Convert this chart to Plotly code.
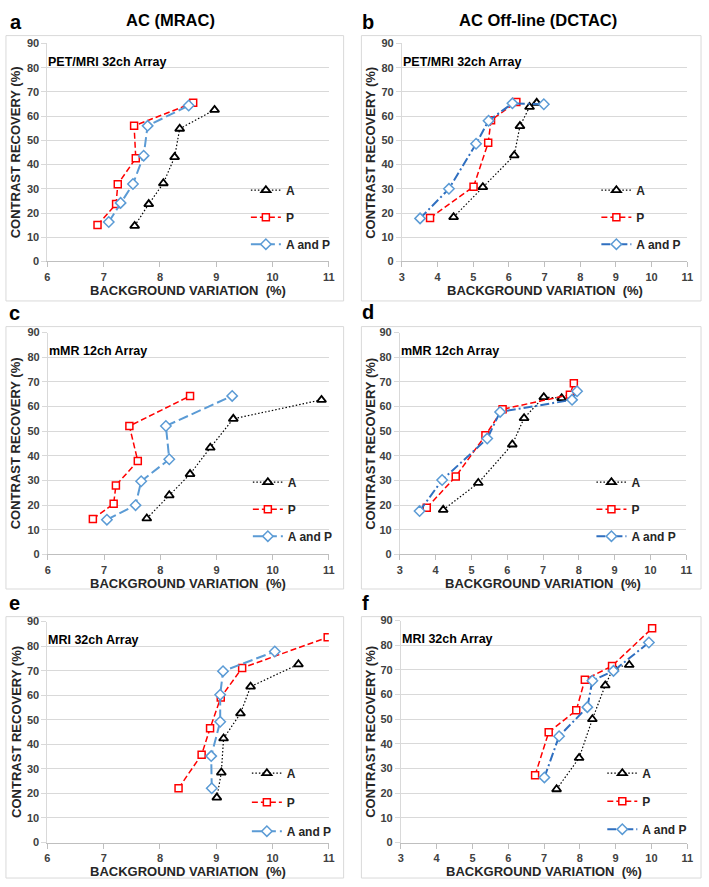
import plotly.graph_objects as go

W, H = 709, 887

# ---------------- data (background variation %, contrast recovery %) ----------------
# Panel a: AC (MRAC), PET/MRI 32ch Array
a_A_x = [7.55, 7.80, 8.06, 8.26, 8.35, 8.97]
a_A_y = [14.7, 23.7, 32.3, 43.1, 54.8, 62.6]
a_P_x = [6.89, 7.22, 7.25, 7.57, 7.54, 8.59]
a_P_y = [15.1, 23.7, 31.9, 42.6, 56.0, 65.5]
a_AP_x = [7.09, 7.30, 7.52, 7.71, 7.78, 8.51]
a_AP_y = [16.3, 24.2, 32.0, 43.7, 56.0, 64.4]

# Panel b: AC Off-line (DCTAC), PET/MRI 32ch Array
b_A_x = [4.45, 5.27, 6.15, 6.31, 6.58, 6.78]
b_A_y = [18.3, 30.7, 43.8, 55.9, 63.8, 65.5]
b_P_x = [3.79, 5.01, 5.42, 5.50, 6.21]
b_P_y = [18.0, 30.9, 49.0, 58.3, 65.8]
b_AP_x = [3.51, 4.32, 5.08, 5.43, 6.10, 6.98]
b_AP_y = [17.8, 30.0, 48.6, 58.1, 65.3, 64.9]

# Panel c: AC (MRAC), mMR 12ch Array
c_A_x = [7.76, 8.16, 8.53, 8.89, 9.30, 10.87]
c_A_y = [14.6, 24.0, 32.6, 43.3, 55.0, 62.7]
c_P_x = [6.80, 7.17, 7.21, 7.60, 7.45, 8.53]
c_P_y = [14.4, 20.6, 28.0, 37.9, 52.1, 64.3]
c_AP_x = [7.05, 7.56, 7.66, 8.16, 8.10, 9.28]
c_AP_y = [14.1, 20.0, 29.7, 38.6, 52.1, 64.3]

# Panel d: AC Off-line (DCTAC), mMR 12ch Array
d_A_x = [4.21, 5.19, 6.14, 6.47, 7.02, 7.52]
d_A_y = [18.1, 29.0, 44.6, 55.3, 63.8, 63.4]
d_P_x = [3.75, 4.56, 5.39, 5.87, 7.75, 7.86]
d_P_y = [18.9, 31.6, 48.3, 58.9, 64.8, 69.4]
d_AP_x = [3.55, 4.18, 5.44, 5.80, 7.81, 7.95]
d_AP_y = [17.6, 30.2, 47.0, 57.8, 62.7, 66.2]

# Panel e: AC (MRAC), MRI 32ch Array
e_A_x = [9.01, 9.09, 9.13, 9.43, 9.61, 10.46]
e_A_y = [18.3, 28.5, 42.4, 52.6, 63.5, 72.6]
e_P_x = [8.33, 8.74, 8.89, 9.08, 9.46, 10.98]
e_P_y = [22.1, 35.8, 46.5, 59.1, 71.1, 83.6]
e_AP_x = [8.92, 8.91, 9.07, 9.07, 9.12, 10.04]
e_AP_y = [22.1, 35.2, 49.2, 60.2, 69.8, 77.8]

# Panel f: AC Off-line (DCTAC), MRI 32ch Array
f_A_x = [7.35, 7.98, 8.35, 8.71, 8.94, 9.38]
f_A_y = [21.6, 34.3, 50.0, 63.7, 70.9, 72.0]
f_P_x = [6.75, 7.13, 7.90, 8.14, 8.90, 10.02]
f_P_y = [27.3, 44.7, 53.6, 66.0, 71.6, 86.9]
f_AP_x = [7.01, 7.42, 8.21, 8.35, 8.94, 9.93]
f_AP_y = [26.4, 43.1, 54.9, 65.6, 69.6, 81.1]

series_names = ["A", "P", "A and P"]
panel_letters = ["a", "b", "c", "d", "e", "f"]
panel_titles = ["PET/MRI 32ch Array", "PET/MRI 32ch Array", "mMR 12ch Array",
                "mMR 12ch Array", "MRI 32ch Array", "MRI 32ch Array"]
column_headers = ["AC (MRAC)", "AC Off-line (DCTAC)"]
x_title = "BACKGROUND VARIATION  (%)"
y_title = "CONTRAST RECOVERY (%)"
x_ranges = [[6, 11], [3, 11], [6, 11], [3, 11], [6, 11], [3, 11]]

panels = [
    [(a_A_x, a_A_y), (a_P_x, a_P_y), (a_AP_x, a_AP_y)],
    [(b_A_x, b_A_y), (b_P_x, b_P_y), (b_AP_x, b_AP_y)],
    [(c_A_x, c_A_y), (c_P_x, c_P_y), (c_AP_x, c_AP_y)],
    [(d_A_x, d_A_y), (d_P_x, d_P_y), (d_AP_x, d_AP_y)],
    [(e_A_x, e_A_y), (e_P_x, e_P_y), (e_AP_x, e_AP_y)],
    [(f_A_x, f_A_y), (f_P_x, f_P_y), (f_AP_x, f_AP_y)],
]

# ---------------- layout geometry (pixels) ----------------
plot_px = [  # x0, x1, y0(top), y1(bottom)
    (45, 330, 38, 259),
    (404, 693, 38, 259),
    (45.5, 330, 331, 556),
    (402, 692, 331, 556),
    (45, 330, 624, 848),
    (403, 693, 623, 848),
]
box_px = [
    (3, 345, 30, 299), (363, 707, 30, 299),
    (3, 345, 325, 591), (363, 707, 325, 591),
    (3, 345, 619, 884), (363, 707, 619, 884),
]
letter_px = [(5, 16), (362, 16), (4, 311), (362, 310), (4, 605), (362, 605)]
legend_px = [(246, 172), (601, 172), (248, 468), (596, 468), (247, 763), (607, 763)]
legend_gap = [8, 8, 8, 8, 10, 9]

FONT = "Liberation Sans, Arial, sans-serif"
BLUE_LIGHT = "#5b9bd5"
BLUE_DARK = "#2f6fc0"


def px_x(v):
    return v / W


def px_y(v):
    return 1 - v / H


fig = go.Figure()
annotations = []
shapes = []

for i, data in enumerate(panels):
    n = i + 1
    xa = "x" if n == 1 else f"x{n}"
    ya = "y" if n == 1 else f"y{n}"
    leg = "legend" if n == 1 else f"legend{n}"
    left_col = (i % 2 == 0)
    ap_color_line = BLUE_LIGHT if left_col else BLUE_DARK
    ap_dash = "10px,4px" if left_col else "9px,3px,2px,3px"
    styles = [
        dict(line=dict(color="#000000", width=1.2, dash="1.5px,2px"),
             marker=dict(symbol="triangle-up", size=8, color="white",
                         line=dict(color="#000000", width=1.8))),
        dict(line=dict(color="#ff0000", width=1.5, dash="6px,3px"),
             marker=dict(symbol="square", size=7, color="white",
                         line=dict(color="#ff0000", width=1.5))),
        dict(line=dict(color=ap_color_line, width=2, dash=ap_dash),
             marker=dict(symbol="diamond", size=8, color="white",
                         line=dict(color=BLUE_LIGHT, width=1.5))),
    ]
    for j, (xs, ys) in enumerate(data):
        fig.add_trace(go.Scatter(
            x=xs, y=ys, mode="lines+markers", name=series_names[j],
            xaxis=xa, yaxis=ya, legend=leg, legendgroup=f"g{n}_{j}",
            line=styles[j]["line"], marker=styles[j]["marker"],
            hoverinfo="x+y+name",
        ))

    x0, x1, y0, y1 = plot_px[i]
    axkey_x = "xaxis" if n == 1 else f"xaxis{n}"
    axkey_y = "yaxis" if n == 1 else f"yaxis{n}"
    fig.update_layout(**{
        axkey_x: dict(
            domain=[px_x(x0), px_x(x1)], range=x_ranges[i], dtick=1,
            anchor=ya, showgrid=False, zeroline=False, showline=True,
            linecolor="#bfbfbf", linewidth=1, ticks="outside", ticklen=5,
            tickcolor="#bfbfbf",
            tickfont=dict(family=FONT, size=11, color="#404040", weight="bold"),
            fixedrange=True,
        ),
        axkey_y: dict(
            domain=[px_y(y1), px_y(y0)], range=[0, 90], dtick=10,
            anchor=xa, showgrid=True, gridcolor="#d9d9d9", gridwidth=1,
            zeroline=False, showline=True, linecolor="#d9d9d9", linewidth=1,
            ticks="outside", ticklen=5, tickcolor="#d9d9d9",
            tickfont=dict(family=FONT, size=11, color="#404040", weight="bold"),
            fixedrange=True,
        ),
        leg: dict(
            x=px_x(legend_px[i][0]), y=px_y(legend_px[i][1]),
            xanchor="left", yanchor="top", bgcolor="rgba(0,0,0,0)",
            font=dict(family=FONT, size=12, color="#262626", weight="bold"),
            traceorder="grouped", tracegroupgap=legend_gap[i],
            itemclick=False, itemdoubleclick=False,
        ),
    })

    bx0, bx1, by0, by1 = box_px[i]
    shapes.append(dict(type="rect", xref="paper", yref="paper",
                       x0=px_x(bx0), x1=px_x(bx1), y0=px_y(by1), y1=px_y(by0),
                       line=dict(color="#d9d9d9", width=1), layer="below"))

    # panel letter
    lx, ly = letter_px[i]
    annotations.append(dict(text=panel_letters[i], xref="paper", yref="paper",
                            x=px_x(lx), y=px_y(ly), xanchor="left", yanchor="middle",
                            showarrow=False,
                            font=dict(family=FONT, size=20, color="#000000", weight="bold")))
    # panel title
    annotations.append(dict(text=panel_titles[i], xref="paper", yref="paper",
                            x=px_x(x0 - 1), y=px_y(y0 + 19), xanchor="left", yanchor="middle",
                            showarrow=False,
                            font=dict(family=FONT, size=12.5, color="#000000", weight="bold")))
    # x axis title
    annotations.append(dict(text=x_title, xref="paper", yref="paper",
                            x=px_x((x0 + x1) / 2), y=px_y(y1 + 29), xanchor="center",
                            yanchor="middle", showarrow=False,
                            font=dict(family=FONT, size=13, color="#262626", weight="bold")))
    # y axis title
    ytx = 13 if left_col else 372
    annotations.append(dict(text=y_title, xref="paper", yref="paper",
                            x=px_x(ytx), y=px_y((y0 + y1) / 2), xanchor="center",
                            yanchor="middle", textangle=-90, showarrow=False,
                            font=dict(family=FONT, size=13, color="#262626", weight="bold")))

# column headers
annotations.append(dict(text=column_headers[0], xref="paper", yref="paper",
                        x=px_x(170), y=px_y(14), xanchor="center", yanchor="middle",
                        showarrow=False,
                        font=dict(family=FONT, size=16.5, color="#000000", weight="bold")))
annotations.append(dict(text=column_headers[1], xref="paper", yref="paper",
                        x=px_x(542), y=px_y(14), xanchor="center", yanchor="middle",
                        showarrow=False,
                        font=dict(family=FONT, size=16.5, color="#000000", weight="bold")))

fig.update_layout(
    width=W, height=H, margin=dict(l=0, r=0, t=0, b=0),
    paper_bgcolor="white", plot_bgcolor="white",
    showlegend=True, annotations=annotations, shapes=shapes,
    font=dict(family=FONT),
)

fig.write_html("out.html", config={"displayModeBar": False},
               post_script="document.body.style.margin='0';document.body.style.overflow='hidden';")
